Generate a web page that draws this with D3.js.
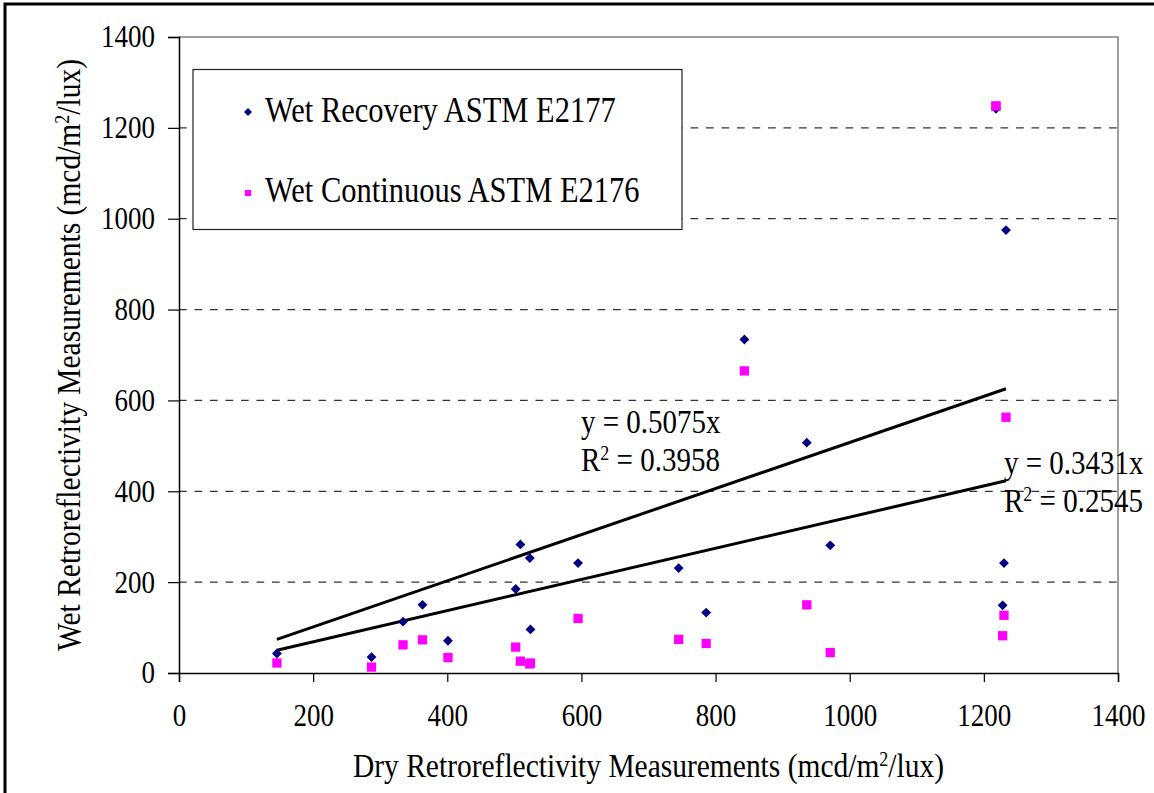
<!DOCTYPE html>
<html>
<head>
<meta charset="utf-8">
<script src="https://cdn.jsdelivr.net/npm/d3@7"></script>
<style>
  body { margin: 0; background: #fff; }
  svg text { font-family: "Liberation Serif", "Times New Roman", serif; fill: #000; }
</style>
</head>
<body>
<svg id="chart"></svg>
<script>
// dry readings (x) shared by both wet series
var dryReadings = [146, 287, 334, 363, 401, 502, 509, 523, 524, 595, 745, 786, 843, 936, 971, 1218, 1233, 1230, 1228];
var wetRecovery = [43, 35, 113, 150, 71, 185, 283, 253, 96, 242, 231, 133, 734, 507, 281, 1242, 975, 242, 149];
var wetContinuous = [22, 13, 62, 73, 34, 57, 26, 20, 22, 120, 74, 65, 665, 150, 45, 1248, 563, 127, 82];

var seriesNames = ["Wet Recovery ASTM E2177", "Wet Continuous ASTM E2176"];
var trendSlopes = [0.5075, 0.3431];
var trendR2 = ["0.3958", "0.2545"];
var xTicks = [0, 200, 400, 600, 800, 1000, 1200, 1400];
var yTicks = [0, 200, 400, 600, 800, 1000, 1200, 1400];

var width = 1154,
    height = 793;

var plot = {left: 179, top: 37, right: 1118, bottom: 673};
var stretch = 1.15; // the original text is drawn a bit taller than normal

var svg = d3.select("#chart")
  .attr("width", width)
  .attr("height", height);

// outer frame (runs past the right/bottom edges)
svg.append("rect")
  .attr("x", 5).attr("y", 4)
  .attr("width", 1170).attr("height", 810)
  .attr("fill", "#fff")
  .attr("stroke", "#000")
  .attr("stroke-width", 3);

var x = d3.scaleLinear().domain([0, 1400]).range([plot.left, plot.right]);
var y = d3.scaleLinear().domain([0, 1400]).range([plot.bottom, plot.top]);

// text placed at (px,py), stretched vertically
function label(parent, px, py, size, rotate) {
  return parent.append("text")
    .attr("transform", "translate(" + px + "," + py + ")" + (rotate ? " rotate(" + rotate + ")" : "") + " scale(1," + stretch + ")")
    .attr("font-size", size);
}

function superscriptText(t, before, after, size) {
  t.append("tspan").text(before);
  t.append("tspan").attr("font-size", size).attr("dy", -10).text("2");
  t.append("tspan").attr("dy", 10).text(after);
}

// dashed gridlines
svg.append("g").selectAll("line")
  .data(yTicks.filter(function(d) { return d > 0 && d < 1400; }))
.enter().append("line")
  .attr("x1", plot.left).attr("x2", plot.right)
  .attr("y1", function(d) { return y(d); })
  .attr("y2", function(d) { return y(d); })
  .attr("stroke", "#333")
  .attr("stroke-width", 1.2)
  .attr("stroke-dasharray", "7.7,7.8");

// plot border top/right in gray
svg.append("path")
  .attr("d", "M" + plot.left + "," + plot.top + "H" + plot.right + "V" + plot.bottom)
  .attr("fill", "none")
  .attr("stroke", "#808080")
  .attr("stroke-width", 1.5);

// axes
var xAxis = svg.append("g")
  .attr("transform", "translate(0," + plot.bottom + ")")
  .call(d3.axisBottom(x).tickValues(xTicks).tickSize(9).tickPadding(22).tickFormat(d3.format("d")));

var yAxis = svg.append("g")
  .attr("transform", "translate(" + plot.left + ",0)")
  .call(d3.axisLeft(y).tickValues(yTicks).tickSize(11).tickPadding(13).tickFormat(d3.format("d")));

[xAxis, yAxis].forEach(function(ax) {
  ax.attr("font-family", null);
  ax.select(".domain").attr("stroke", "#000").attr("stroke-width", 1.5);
  ax.selectAll(".tick line").attr("stroke", "#000").attr("stroke-width", 1.2);
  ax.selectAll("text")
    .attr("font-size", 27)
    .attr("fill", "#000")
    .attr("transform", "scale(1," + stretch + ")");
});
xAxis.selectAll("text")
  .attr("y", 31 / stretch)
  .attr("dy", "0.71em");

// trendlines through origin
var xMin = d3.min(dryReadings), xMax = d3.max(dryReadings);
svg.append("g").selectAll("line")
  .data(trendSlopes)
.enter().append("line")
  .attr("x1", x(xMin)).attr("x2", x(xMax))
  .attr("y1", function(d) { return y(d * xMin); })
  .attr("y2", function(d) { return y(d * xMax); })
  .attr("stroke", "#000")
  .attr("stroke-width", 3);

// points
var diamond = d3.symbol().type(d3.symbolDiamond2).size(62);
var square = d3.symbol().type(d3.symbolSquare2).size(110);

svg.append("g").selectAll("path")
  .data(dryReadings)
.enter().append("path")
  .attr("d", square)
  .attr("transform", function(d, i) { return "translate(" + x(d) + "," + y(wetContinuous[i]) + ")"; })
  .attr("fill", "#ff00ff");

svg.append("g").selectAll("path")
  .data(dryReadings)
.enter().append("path")
  .attr("d", diamond)
  .attr("transform", function(d, i) { return "translate(" + x(d) + "," + y(wetRecovery[i]) + ")"; })
  .attr("fill", "#000080");

// the pink point at the top sits over the blue one
svg.append("path")
  .attr("d", square)
  .attr("transform", "translate(" + x(dryReadings[15]) + "," + y(wetContinuous[15]) + ")")
  .attr("fill", "#ff00ff");

// trendline labels
var labelPos = [{x: 581, y: 433}, {x: 1004, y: 474}];
labelPos.forEach(function(p, i) {
  label(svg, p.x, p.y, 29).text("y = " + trendSlopes[i] + "x");
  superscriptText(label(svg, p.x, p.y + 38, 29), "R", " = " + trendR2[i], 18);
});

// legend
var legend = svg.append("g");
legend.append("rect")
  .attr("x", 193).attr("y", 69.5)
  .attr("width", 489).attr("height", 160)
  .attr("fill", "#fff")
  .attr("stroke", "#222")
  .attr("stroke-width", 1.2);

legend.append("path")
  .attr("d", d3.symbol().type(d3.symbolDiamond2).size(40))
  .attr("transform", "translate(248,112)")
  .attr("fill", "#000080");
legend.append("path")
  .attr("d", d3.symbol().type(d3.symbolSquare2).size(50))
  .attr("transform", "translate(248,193)")
  .attr("fill", "#ff00ff");

seriesNames.forEach(function(name, i) {
  label(legend, 265, i === 0 ? 122 : 202, 30.5).text(name);
});

// axis titles
var xt = label(svg, (plot.left + plot.right) / 2, 777, 29.5).attr("text-anchor", "middle");
superscriptText(xt, "Dry Retroreflectivity Measurements (mcd/m", "/lux)", 18);

var yt = label(svg, 80, (plot.top + plot.bottom) / 2, 29.5, -90).attr("text-anchor", "middle");
superscriptText(yt, "Wet Retroreflectivity Measurements (mcd/m", "/lux)", 18);
</script>
</body>
</html>
